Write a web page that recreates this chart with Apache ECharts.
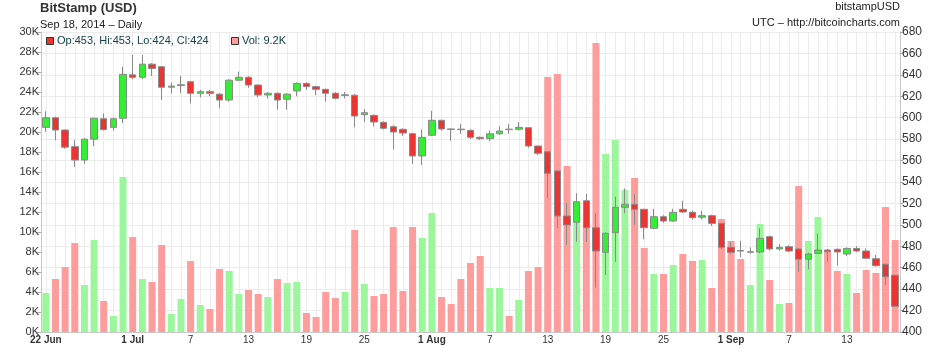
<!DOCTYPE html>
<html>
<head>
<meta charset="utf-8">
<script src="https://cdn.jsdelivr.net/npm/echarts@6/dist/echarts.min.js"></script>
<style>
  html, body { margin: 0; padding: 0; background: #fff; }
  #chart { width: 940px; height: 348px; }
</style>
</head>
<body>
<div id="chart"></div>
<script>
// Daily candles, BitStamp BTC/USD: [open, close, low, high]
const ohlc = [
  [591, 600, 587, 606], [600, 588.5, 579, 601], [588.5, 572.5, 571, 589], [573, 560.5, 554, 579],
  [560.5, 580, 557, 581], [580, 599.5, 573.5, 600], [599, 589, 588, 604], [591, 599, 588, 600],
  [599.5, 640.5, 595, 647.5], [640, 637.7, 636, 658.5], [637.7, 650, 636, 658.5], [650, 646, 639, 651],
  [647.6, 628.4, 616.5, 648], [628.5, 629.5, 622.8, 632.7], [630, 630.8, 622.8, 639], [633.6, 622.8, 613.4, 634.5],
  [622.8, 624.3, 619, 626], [624.3, 622.8, 620, 626], [622, 616.5, 608.8, 623], [616.5, 635, 615, 636],
  [635, 637.7, 634, 643], [637.7, 630.5, 628, 639], [630.5, 621.2, 619, 631], [621.2, 622.8, 618, 624],
  [622.8, 616.5, 607.7, 623.5], [617.2, 622, 607.5, 623], [625, 632, 620, 633], [632, 629, 626, 633],
  [629, 626.5, 621, 630], [626.5, 622.8, 615, 627], [622.8, 618.1, 617, 624], [620.8, 621.4, 618, 624],
  [621, 601.6, 591, 622], [602.8, 604.7, 596, 608], [602.2, 596, 592, 603], [595.7, 590.1, 589, 596.5],
  [591.6, 586.7, 570.5, 593], [589.2, 585.7, 583, 590], [585.1, 564.3, 556.8, 586], [564.3, 581.7, 556, 589],
  [583.6, 597.6, 583, 606.5], [597.6, 589.5, 588, 598], [589.5, 589, 578.5, 590], [589.3, 588.8, 585, 594],
  [588.2, 581.7, 580, 589], [581.7, 580.4, 579, 582.5], [580.4, 585, 578, 588], [585, 587.6, 584, 592],
  [589.3, 588.9, 585, 594], [589.2, 591, 588, 596], [590.7, 573.6, 572, 591], [573.6, 566.8, 565, 574],
  [568.3, 548.1, 524.8, 569], [550.3, 508.3, 496.8, 551], [508.3, 499.9, 481.2, 520.7], [502.4, 521.6, 484.3, 529.5],
  [522.5, 497.3, 484, 529], [497.3, 475.6, 441.7, 510.8], [474.4, 492.1, 453.2, 493], [492.7, 516.4, 465.6, 526.3],
  [516.4, 519.2, 510.8, 534], [519.2, 514.5, 500, 528.6], [514.5, 497.3, 486.5, 515], [496.8, 507.6, 496, 515],
  [507.6, 503.6, 502, 509], [503.6, 511.7, 503, 515], [514.5, 512, 511, 522.5], [511.7, 506.7, 505, 513],
  [507.1, 508.6, 505, 513], [508.6, 501.4, 499, 509.5], [501.4, 479, 477, 502], [479, 474.4, 473, 484],
  [476, 475.6, 470, 485], [474.5, 475, 473, 479], [474.7, 487.4, 473.5, 496.8], [489, 477.5, 476, 490],
  [477.5, 479, 476, 482], [479.6, 475.6, 474.5, 481], [477.5, 467.9, 456.3, 478], [467.9, 472.8, 458.5, 474],
  [473.4, 476.5, 473, 492], [476.5, 475, 465.6, 477.5], [477.2, 474.7, 462, 478], [472.8, 478, 471, 479],
  [478, 475.6, 474.5, 480], [475.6, 468.8, 468, 478], [468.4, 461.9, 461, 472], [463.2, 451.6, 443.9, 464],
  [453, 424, 424, 453]
];

// Daily volume, BTC
const volume = [
  3900, 5300, 6500, 8900, 4700, 9200, 3100, 1600, 15500, 9500,
  5300, 5000, 8700, 1800, 3300, 7100, 2700, 2300, 6300, 6100,
  3800, 4200, 3800, 3500, 5300, 4900, 5000, 1900, 1500, 4000,
  3400, 4000, 10200, 4800, 3600, 3800, 10500, 4100, 10500, 9400,
  11900, 3500, 2800, 5300, 6900, 7600, 4400, 4400, 1600, 3200,
  6100, 6500, 25500, 25800, 16600, 12000, 11800, 28900, 17800, 19200,
  14200, 15400, 8400, 5800, 5800, 6700, 7800, 7100, 7200, 4400,
  11300, 9100, 7300, 4700, 10800, 5200, 2800, 2900, 14600, 9100,
  11500, 8000, 6100, 5800, 3900, 6200, 5900, 12500, 9200
];

// One category per trading day, starting 22 Jun 2014
const firstDay = Date.UTC(2014, 5, 22);
const days = ohlc.map(function (_, i) {
  return new Date(firstDay + i * 86400000).toISOString().slice(0, 10);
});

// Labelled days on the time axis
const tickDays = ['2014-06-22', '2014-07-01', '2014-07-07', '2014-07-13', '2014-07-19', '2014-07-25',
  '2014-08-01', '2014-08-07', '2014-08-13', '2014-08-19', '2014-08-25',
  '2014-09-01', '2014-09-07', '2014-09-13'];
const tickLabels = ['22 Jun', '1 Jul', '7', '13', '19', '25', '1 Aug', '7', '13', '19', '25', '1 Sep', '7', '13'];

const UP = '#33ee33', DOWN = '#ee3333';
const VOL_UP = '#9cf79c', VOL_DOWN = '#ff9c9c';
const FONT = '"Liberation Sans", Arial, sans-serif';

const volumeData = volume.map(function (v, i) {
  const up = ohlc[i][1] >= ohlc[i][0];
  return { value: v, itemStyle: { color: up ? VOL_UP : VOL_DOWN } };
});

const last = ohlc[ohlc.length - 1];
const lastVol = volume[volume.length - 1];
const fmt = function (n) { return String(Math.round(n)); };
const ohlcText = 'Op:' + fmt(last[0]) + ', Hi:' + fmt(last[3]) + ', Lo:' + fmt(last[2]) + ', Cl:' + fmt(last[1]);
const volText = 'Vol: ' + (lastVol / 1000).toFixed(1) + 'K';

const chart = echarts.init(document.getElementById('chart'), null, { renderer: 'canvas' });

chart.setOption({
  animation: false,
  backgroundColor: '#fff',
  textStyle: { fontFamily: FONT },
  grid: { left: 41, right: 40, top: 32, bottom: 16 },
  title: [
    { text: 'BitStamp (USD)', left: 40, top: 2, padding: 0,
      textStyle: { fontSize: 13, fontWeight: 'bold', color: '#333', fontFamily: FONT } },
    { text: 'Sep 18, 2014 – Daily', left: 40, top: 19, padding: 0,
      textStyle: { fontSize: 11, fontWeight: 'normal', color: '#222', fontFamily: FONT } },
    { text: 'bitstampUSD', right: 40, top: 1, padding: 0,
      textStyle: { fontSize: 11, fontWeight: 'normal', color: '#222', fontFamily: FONT } },
    { text: 'UTC – http://bitcoincharts.com', right: 40, top: 17, padding: 0,
      textStyle: { fontSize: 11, fontWeight: 'normal', color: '#222', fontFamily: FONT } }
  ],
  graphic: [
    { type: 'rect', left: 46, top: 37, shape: { width: 7, height: 7 },
      style: { fill: DOWN, stroke: '#333', lineWidth: 1 }, z: 100 },
    { type: 'text', left: 57, top: 35, z: 100,
      style: { text: ohlcText, fill: '#14404d', font: '11px ' + FONT } },
    { type: 'rect', left: 231, top: 37, shape: { width: 7, height: 7 },
      style: { fill: VOL_DOWN, stroke: '#333', lineWidth: 1 }, z: 100 },
    { type: 'text', left: 242, top: 35, z: 100,
      style: { text: volText, fill: '#14404d', font: '11px ' + FONT } }
  ],
  xAxis: {
    type: 'category',
    data: days,
    boundaryGap: true,
    axisLine: { show: true, lineStyle: { color: '#c8c8c8' } },
    axisTick: { show: false },
    splitLine: { show: true, interval: 0, alignWithLabel: true, lineStyle: { color: '#ececec', width: 1 } },
    axisLabel: {
      interval: function (index, value) { return tickDays.indexOf(value) >= 0; },
      margin: 3,
      fontSize: 10,
      color: '#333',
      fontFamily: FONT,
      formatter: function (value) {
        const k = tickDays.indexOf(value);
        if (k < 0) return '';
        const t = tickLabels[k];
        return t.indexOf(' ') >= 0 ? '{m|' + t + '}' : t;
      },
      rich: { m: { fontWeight: 'bold', fontSize: 10, color: '#333', fontFamily: FONT } }
    }
  },
  yAxis: [
    {
      type: 'value', position: 'left', min: 0, max: 30000, interval: 2000,
      axisLine: { show: true, lineStyle: { color: '#c8c8c8' } },
      axisTick: { show: true, length: 4, lineStyle: { color: '#aaa' } },
      splitLine: { show: false },
      axisLabel: { margin: 2, fontSize: 11, color: '#333', fontFamily: FONT,
        formatter: function (v) { return (v / 1000) + 'K'; } }
    },
    {
      type: 'value', position: 'right', min: 400, max: 680, interval: 20,
      axisLine: { show: true, lineStyle: { color: '#c8c8c8' } },
      axisTick: { show: true, length: 3, lineStyle: { color: '#aaa' } },
      splitLine: { show: true, lineStyle: { color: '#ececec' } },
      axisLabel: { margin: 2, fontSize: 12, color: '#333', fontFamily: FONT }
    }
  ],
  series: [
    {
      name: 'Volume', type: 'bar', yAxisIndex: 0, barWidth: 7,
      data: volumeData, z: 2
    },
    {
      name: 'Price', type: 'candlestick', yAxisIndex: 1, barWidth: 7,
      data: ohlc, z: 3,
      itemStyle: {
        color: UP, color0: DOWN,
        borderColor: '#8a8a8a', borderColor0: '#8a8a8a', borderColorDoji: '#8a8a8a',
        borderWidth: 1
      }
    }
  ]
});
</script>
</body>
</html>
